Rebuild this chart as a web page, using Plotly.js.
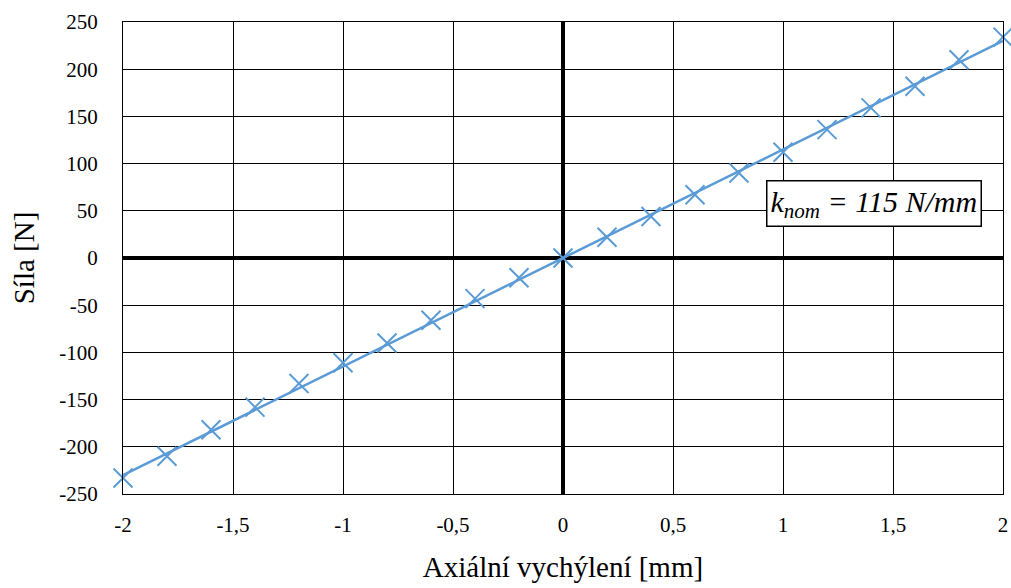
<!DOCTYPE html>
<html><head><meta charset="utf-8">
<script src="https://cdn.plot.ly/plotly-3.0.1.min.js"></script>
<style>body{margin:0;background:#fff}#c{width:1011px;height:588px}</style>
</head><body><div id="c"></div>
<script>
const xData = [-2,-1.8,-1.6,-1.4,-1.2,-1,-0.8,-0.6,-0.4,-0.2,0,0.2,0.4,0.6,0.8,1,1.2,1.4,1.6,1.8,2];
const yData = [-233,-210,-182,-158,-133,-111,-90,-66,-43,-21,0,22,44,67,90,112,136,159,182,210,234];
const fitX = [-2,2];
const fitY = [-230,230];
const xTickVals = [-2,-1.5,-1,-0.5,0,0.5,1,1.5,2];
const xTickText = ['-2','-1,5','-1','-0,5','0','0,5','1','1,5','2'];
const yTickVals = [-250,-200,-150,-100,-50,0,50,100,150,200,250];
const yTickText = ['-250','-200','-150','-100','-50','0','50','100','150','200','250'];
const labelText = '<i>k<sub>nom</sub> = 115 N/mm</i>';

const font = 'Liberation Serif';
const blue = '#5B9BD5';
const traces = [
  {x: fitX, y: fitY, mode:'lines', line:{color:blue, width:2.5}, hoverinfo:'skip', cliponaxis:false},
  {x: xData, y: yData, mode:'markers', cliponaxis:false, marker:{symbol:'x-thin', size:19, line:{color:blue, width:2}, color:blue}}
];
const layout = {
  width:1011, height:588, showlegend:false,
  paper_bgcolor:'#fff', plot_bgcolor:'#fff',
  margin:{l:123, r:8, t:22, b:94},
  font:{family:font, size:21, color:'#000'},
  xaxis:{range:[-2,2], tickvals:xTickVals, ticktext:xTickText, showgrid:true, gridcolor:'#000', gridwidth:1,
    zeroline:true, zerolinecolor:'#000', zerolinewidth:3.5, showline:true, linecolor:'#000', linewidth:1, mirror:true,
    ticks:'outside', ticklen:0, tickcolor:'rgba(0,0,0,0)', ticklabelstandoff:12,
    tickfont:{family:font, size:21, color:'#000'},
    title:{text:'Axiální vychýlení [mm]', font:{family:font, size:29, color:'#000'}, standoff:20}},
  yaxis:{range:[-250,250], tickvals:yTickVals, ticktext:yTickText, showgrid:true, gridcolor:'#000', gridwidth:1,
    zeroline:true, zerolinecolor:'#000', zerolinewidth:3.5, showline:true, linecolor:'#000', linewidth:1, mirror:true,
    ticks:'outside', ticklen:0, tickcolor:'rgba(0,0,0,0)', ticklabelstandoff:20,
    tickfont:{family:font, size:21, color:'#000'},
    title:{text:'Síla [N]', font:{family:font, size:29, color:'#000'}, standoff:16}},
  annotations:[{x:1.414, y:58, xref:'x', yref:'y', text:labelText, showarrow:false,
    font:{family:font, size:30, color:'#000'}, bgcolor:'#fff', bordercolor:'#000', borderwidth:1.5, borderpad:3}]
};
Plotly.newPlot('c', traces, layout, {displayModeBar:false}).then(function(gd){
  gd.querySelectorAll('text').forEach(function(t){ t.style.fontFamily = "'Liberation Serif', serif"; });
});
</script></body></html>
